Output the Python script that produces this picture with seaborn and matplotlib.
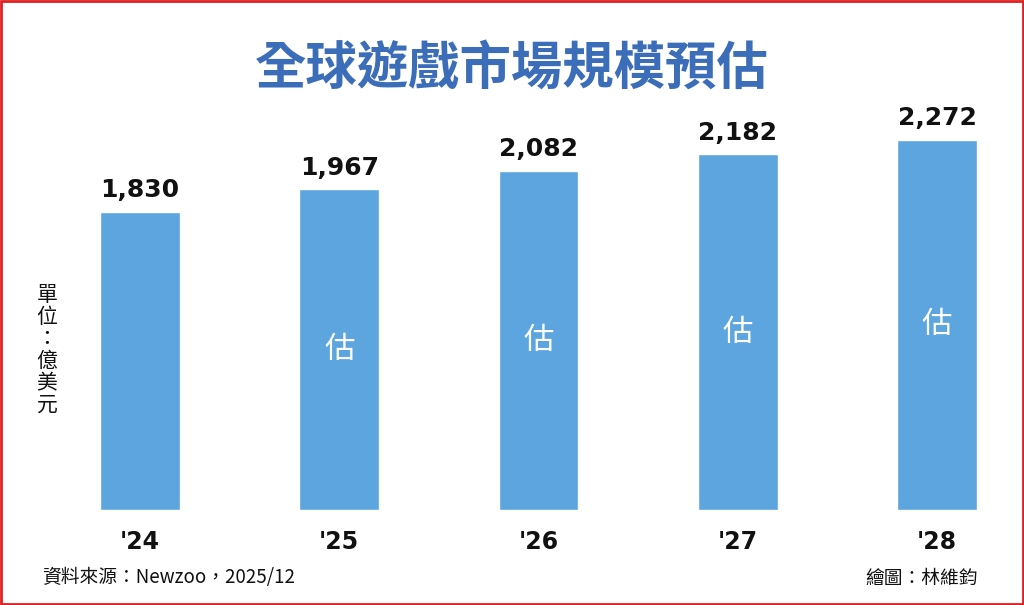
import matplotlib
matplotlib.use("Agg")
import matplotlib.pyplot as plt
import seaborn as sns
import pandas as pd
from matplotlib.patches import Rectangle

years = ["'24", "'25", "'26", "'27", "'28"]
values = [1830, 1967, 2082, 2182, 2272]
labels = ["1,830", "1,967", "2,082", "2,182", "2,272"]
inner = ["", "估", "估", "估", "估"]

sns.set_theme(style="white")
plt.rcParams['font.family'] = ['Noto Sans CJK TC', 'DejaVu Sans']

fig = plt.figure(figsize=(10.24, 6.05), dpi=100)
ax = fig.add_axes([0, 1 - 510/605, 1, 410/605])
df = pd.DataFrame({"x": list(range(len(years))), "v": values})
ax.bar(df["x"], df["v"], width=0.4, color="#5da5de")
ax.set_xlim(-140/199.25, (1024-140)/199.25)
ax.set_ylim(0, 410/0.163)
ax.axis("off")
for i, (v, l, t) in enumerate(zip(values, labels, inner)):
    ax.text(i, v + 60, l, ha="center", va="bottom", fontsize=18, fontweight="bold", color="#111111", family="DejaVu Sans")
    if t:
        ax.text(i, v / 2, t, ha="center", va="center", fontsize=22, color="white")
    ax.text(i, -120, years[i], ha="center", va="top", fontsize=17, fontweight="bold", color="#111111", family="DejaVu Sans")

fig.text(0.5, 1 - 68/605, "全球遊戲市場規模預估", ha="center", va="center", fontsize=37, fontweight="bold", color="#3b6db8")
fig.text(47/1024, 1 - 350/605, "單\n位\n：\n億\n美\n元", ha="center", va="center", fontsize=15, linespacing=1.0, color="#111111")
fig.text(42/1024, 1 - 578/605, "資料來源：Newzoo，2025/12", ha="left", va="center", fontsize=13.5, color="#111111")
fig.text(978/1024, 1 - 578/605, "繪圖：林維鈞", ha="right", va="center", fontsize=13.5, color="#111111")
fig.patches.append(Rectangle((0.001, 0.001), 0.998, 0.998, transform=fig.transFigure, fill=False, edgecolor="#e02020", linewidth=2))
fig.savefig("out.png", dpi=100)
